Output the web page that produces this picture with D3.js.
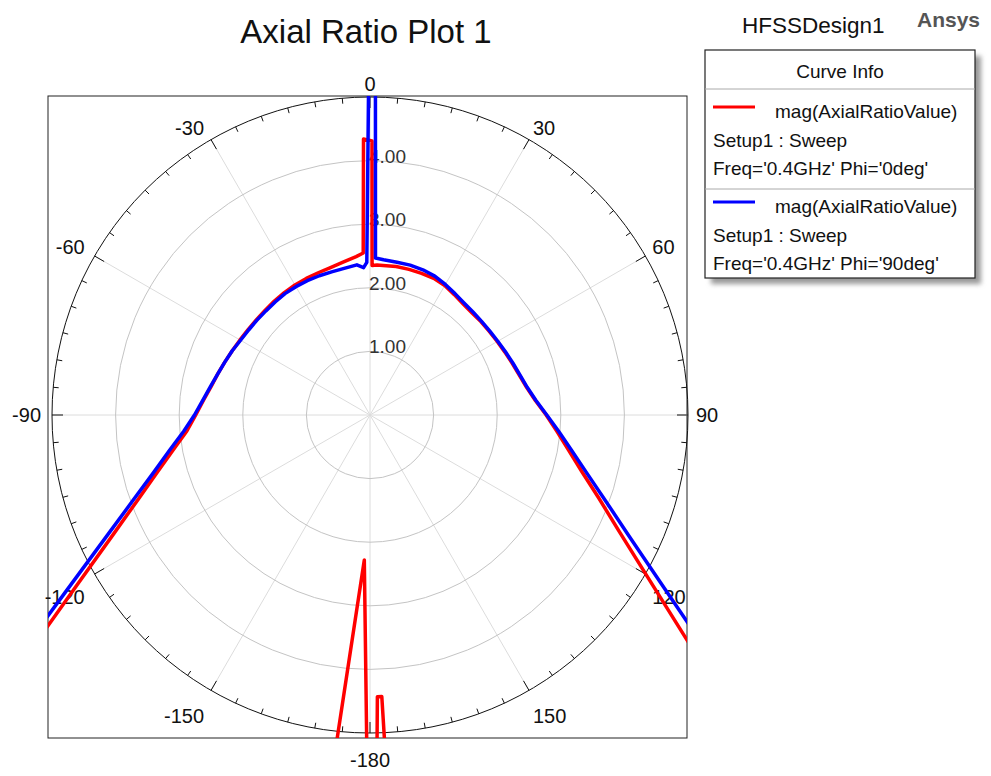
<!DOCTYPE html>
<html>
<head>
<script src="https://d3js.org/d3.v7.min.js"></script>
<style>
  body { margin: 0; background: #fff; }
  text { font-family: Arial, "Liberation Sans", sans-serif; }
</style>
</head>
<body>
<div id="chart"></div>
<script>
// angular tick labels (theta, deg) and radial ticks
var angleTicks = [0, 30, 60, 90, 120, 150, -180, -150, -120, -90, -60, -30];
var radialTicks = [1, 2, 3, 4];
var radialMax = 5;

// mag(AxialRatioValue), Phi = 0deg
var thetaRed = [-180, -177.75, -174, -170, -160, -150, -140, -130, -125, -120, -115, -110, -105, -100, -95, -90,
  -85, -80, -75, -70, -65, -60, -55, -50, -45, -40, -35, -30, -25, -20, -15, -10,
  -5, -2.4, -1.35, 0.42, 0.8, 2.7, 5, 10, 15, 20, 25, 30, 35, 40, 45, 50,
  55, 60, 65, 70, 75, 80, 85, 90, 95, 100, 105, 110, 115, 120, 125, 130,
  140, 150, 160, 170, 177.3, 177.6, 178.5, 179, 180];
var arRed = [9, 2.28, 5.5, 7, 9, 10, 10, 8.77, 6.58, 5.30, 4.46, 3.88, 3.46, 3.14, 2.89, 2.74,
  2.63, 2.54, 2.48, 2.43, 2.39, 2.36, 2.34, 2.33, 2.33, 2.34, 2.35, 2.36, 2.37, 2.38, 2.40, 2.44,
  2.50, 2.55, 4.34, 4.31, 2.35, 2.36, 2.36, 2.37, 2.37, 2.37, 2.37, 2.35, 2.31, 2.28, 2.27, 2.28,
  2.29, 2.31, 2.34, 2.38, 2.43, 2.50, 2.61, 2.77, 2.95, 3.17, 3.45, 3.83, 4.32, 5.01, 6.02, 7.60,
  9, 10, 10, 8, 6.0, 4.43, 4.43, 6.0, 9];

// mag(AxialRatioValue), Phi = 90deg
var thetaBlue = [-180, -170, -160, -150, -140, -130, -125, -120, -115, -110, -105, -100, -95, -90, -85, -80,
  -75, -70, -65, -60, -55, -50, -45, -40, -35, -30, -25, -20, -15, -10, -5, -2.5,
  -1.2, -0.25, 0.95, 2, 5, 10, 15, 20, 25, 30, 35, 40, 45, 50, 55, 60,
  65, 70, 75, 80, 85, 90, 95, 100, 105, 110, 115, 120, 125, 130, 140, 150,
  160, 170, 180];
var arBlue = [12, 12, 12, 12, 11, 9.36, 6.90, 5.50, 4.60, 3.98, 3.53, 3.20, 2.94, 2.76, 2.64, 2.55,
  2.48, 2.43, 2.39, 2.35, 2.33, 2.32, 2.315, 2.32, 2.33, 2.33, 2.33, 2.33, 2.33, 2.34, 2.37, 2.32,
  2.40, 5.15, 5.15, 2.47, 2.45, 2.44, 2.44, 2.43, 2.41, 2.37, 2.33, 2.30, 2.29, 2.29, 2.30, 2.32,
  2.35, 2.39, 2.44, 2.51, 2.62, 2.78, 2.98, 3.22, 3.53, 3.94, 4.49, 5.28, 6.46, 8.40, 11, 12,
  12, 12, 12];

var legendLines = [
  ["mag(AxialRatioValue)", "Setup1 : Sweep", "Freq='0.4GHz' Phi='0deg'"],
  ["mag(AxialRatioValue)", "Setup1 : Sweep", "Freq='0.4GHz' Phi='90deg'"]
];
var curveColors = ["#ff0000", "#0000ff"];

var width = 991, height = 776;
var cx = 370, cy = 415, R = 318;
var box = {x0: 48, y0: 96, x1: 687, y1: 738};

var svg = d3.select("#chart").append("svg")
    .attr("width", width)
    .attr("height", height);

var defs = svg.append("defs");
defs.append("clipPath").attr("id", "plotclip")
  .append("rect")
    .attr("x", box.x0 - cx).attr("y", box.y0 - cy)
    .attr("width", box.x1 - box.x0).attr("height", box.y1 - box.y0);
defs.append("filter").attr("id", "shadow")
  .attr("x", "-10%").attr("y", "-10%").attr("width", "130%").attr("height", "130%")
  .append("feGaussianBlur").attr("stdDeviation", 2.5);

// scales
var r = d3.scaleLinear().domain([0, radialMax]).range([0, R]);
var ang = d3.scaleLinear().domain([-180, 180]).range([-Math.PI, Math.PI]);

function pt(t, rad) {
  var a = ang(t);
  return [rad * Math.sin(a), -rad * Math.cos(a)];
}

// title
svg.append("text")
    .attr("x", 366).attr("y", 43)
    .attr("text-anchor", "middle")
    .style("font-size", "33px")
    .attr("fill", "#111")
    .text("Axial Ratio Plot 1");
svg.append("text")
    .attr("x", 742).attr("y", 33)
    .style("font-size", "22.5px")
    .attr("fill", "#111")
    .text("HFSSDesign1");
svg.append("text")
    .attr("x", 917).attr("y", 27)
    .style("font-size", "21px")
    .style("font-weight", "bold")
    .attr("fill", "#555")
    .text("Ansys");

// plot frame
svg.append("rect")
    .attr("x", box.x0).attr("y", box.y0)
    .attr("width", box.x1 - box.x0).attr("height", box.y1 - box.y0)
    .attr("fill", "none")
    .attr("stroke", "#222")
    .attr("stroke-width", 1);

var g = svg.append("g").attr("transform", "translate(" + cx + "," + cy + ")");

// spokes
g.selectAll(".spoke")
  .data(d3.range(0, 360, 30))
  .enter().append("line")
    .attr("x1", 0).attr("y1", 0)
    .attr("x2", d => pt(d, R)[0])
    .attr("y2", d => pt(d, R)[1])
    .attr("stroke", "#dcdcdc")
    .attr("stroke-width", 1);

// rings
g.selectAll(".ring")
  .data(radialTicks)
  .enter().append("circle")
    .attr("r", d => r(d))
    .attr("fill", "none")
    .attr("stroke", "#c4c4c4")
    .attr("stroke-width", 1);

g.append("circle")
    .attr("r", r(radialMax))
    .attr("fill", "none")
    .attr("stroke", "#111")
    .attr("stroke-width", 1);

// ticks on the outer circle
g.selectAll(".tick")
  .data(d3.range(0, 360, 5))
  .enter().append("line")
    .attr("x1", d => pt(d, R)[0])
    .attr("y1", d => pt(d, R)[1])
    .attr("x2", d => pt(d, R - (d % 30 === 0 ? 11 : 5.5))[0])
    .attr("y2", d => pt(d, R - (d % 30 === 0 ? 11 : 5.5))[1])
    .attr("stroke", "#111")
    .attr("stroke-width", 1);

// radial labels
g.selectAll(".rlabel")
  .data(radialTicks)
  .enter().append("text")
    .attr("x", -1)
    .attr("y", d => -r(d) + 2)
    .style("font-size", "19px")
    .attr("fill", "#333")
    .text(d => d3.format(".2f")(d));

// angle labels
var pad = 8;
g.selectAll(".alabel")
  .data(angleTicks)
  .enter().append("text")
    .each(function(d) {
      var a = ang(d), sx = Math.sin(a), sy = -Math.cos(a);
      var p = pt(d, R + pad);
      var anchor = Math.abs(sx) < 0.05 ? "middle" : (sx > 0 ? "start" : "end");
      var x = p[0] + (sx < -0.05 ? -3 : 0);
      var y = Math.abs(sy) < 0.05 ? p[1] + 7 : (sy < 0 ? p[1] + 2 : p[1] + 26);
      d3.select(this)
        .attr("x", x).attr("y", y)
        .attr("text-anchor", anchor);
    })
    .style("font-size", "20px")
    .attr("fill", "#111")
    .text(d => d);

// curves
var line = d3.lineRadial()
    .angle(d => ang(d.t))
    .radius(d => r(d.v));

var series = [
  thetaRed.map((t, i) => ({t: t, v: arRed[i]})),
  thetaBlue.map((t, i) => ({t: t, v: arBlue[i]}))
];

var curves = g.append("g").attr("clip-path", "url(#plotclip)");
curves.selectAll(".curve")
  .data(series)
  .enter().append("path")
    .attr("d", line)
    .attr("fill", "none")
    .attr("stroke", (d, i) => curveColors[i])
    .attr("stroke-width", 3.5)
    .attr("stroke-linejoin", "round");

// legend
var lg = {x: 705, y: 50, w: 270, h: 228};
svg.append("rect")
    .attr("x", lg.x + 6).attr("y", lg.y + 6)
    .attr("width", lg.w).attr("height", lg.h)
    .attr("fill", "#9a9a9a")
    .attr("filter", "url(#shadow)");
svg.append("rect")
    .attr("x", lg.x).attr("y", lg.y)
    .attr("width", lg.w).attr("height", lg.h)
    .attr("fill", "#fff")
    .attr("stroke", "#222")
    .attr("stroke-width", 1.2);
svg.append("text")
    .attr("x", lg.x + lg.w / 2).attr("y", 78)
    .attr("text-anchor", "middle")
    .style("font-size", "19px")
    .attr("fill", "#111")
    .text("Curve Info");

var sepY = [89, 189], swatchY = [107, 202], textY = [[118, 147, 175], [213, 242, 270]];
legendLines.forEach(function(rows, i) {
  svg.append("line")
      .attr("x1", lg.x).attr("x2", lg.x + lg.w)
      .attr("y1", sepY[i]).attr("y2", sepY[i])
      .attr("stroke", "#aaa")
      .attr("stroke-width", 1);
  svg.append("line")
      .attr("x1", 713).attr("x2", 755)
      .attr("y1", swatchY[i]).attr("y2", swatchY[i])
      .attr("stroke", curveColors[i])
      .attr("stroke-width", 3);
  rows.forEach(function(txt, j) {
    svg.append("text")
        .attr("x", j === 0 ? 775 : 713).attr("y", textY[i][j])
        .style("font-size", "19px")
        .attr("fill", "#111")
        .text(txt);
  });
});
</script>
</body>
</html>
